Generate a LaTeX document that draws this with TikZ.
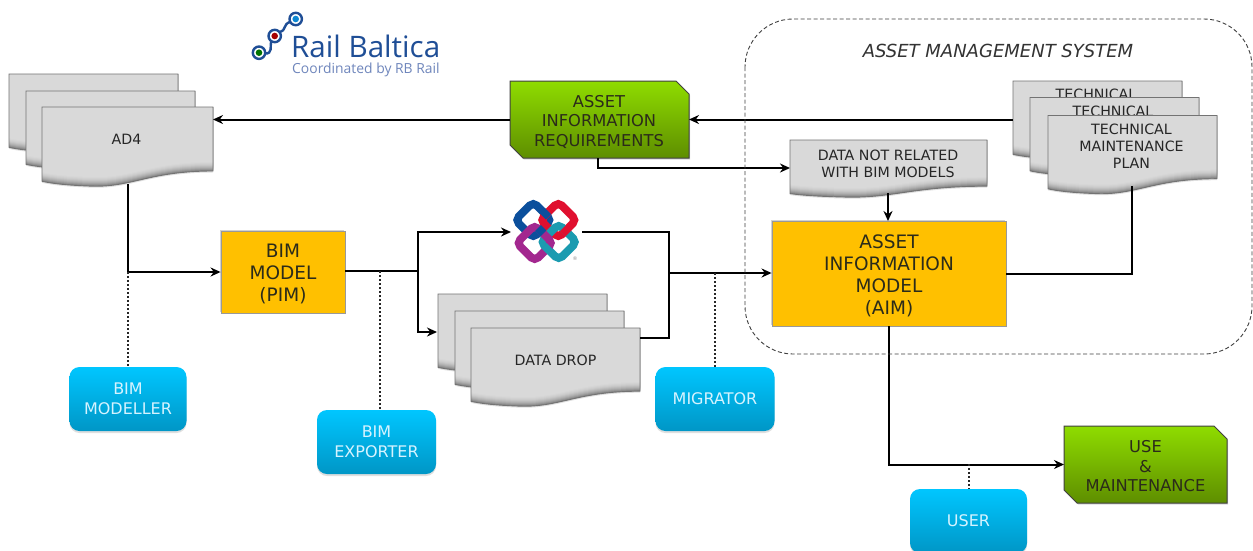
\documentclass[tikz,border=0pt]{standalone}
\usepackage{fontspec}
\setmainfont{DejaVu Sans}
\newfontfamily\logofont{Open Sans}
\usetikzlibrary{arrows.meta,shadows,calc}
\definecolor{txtdark}{HTML}{2B2B1A}
\definecolor{logoblue}{HTML}{1F4E96}
\definecolor{logolight}{HTML}{6F86BC}
\definecolor{greentop}{HTML}{8FDC00}
\definecolor{greenbot}{HTML}{5E8E00}
\definecolor{bluetop}{HTML}{00C6FF}
\definecolor{bluebot}{HTML}{0096C6}
\definecolor{orange1}{HTML}{FFC000}
\definecolor{bluetext}{HTML}{D6F3FF}
\definecolor{ifcblue}{HTML}{0B4F9C}
\definecolor{ifcred}{HTML}{E0102F}
\definecolor{ifcpurple}{HTML}{A3278F}
\definecolor{ifcteal}{HTML}{1B9BB0}
\tikzset{
  wire/.style={draw=black,line width=2pt},
  arrowwire/.style={wire,-{Stealth[length=10pt,width=9pt]}},
  dotwire/.style={draw=black!85,line width=2pt,dash pattern=on 2pt off 2pt},
  docbase/.style={fill=black!15,drop shadow={shadow xshift=0pt,shadow yshift=-1.5pt,opacity=.25}},
  docline/.style={draw=black!55,line width=.9pt},
  ghost/.style={inner sep=0pt,outer sep=0pt},
  doctext/.style={inner sep=0pt,align=center,font=\fontsize{14.2}{17}\selectfont,text=black!85},
  snipbox/.style={draw=black!75,line width=1pt,top color=greentop,bottom color=greenbot,
    drop shadow={shadow xshift=1pt,shadow yshift=-1.5pt,opacity=.3}},
  sniptext/.style={inner sep=0pt,align=center,font=\fontsize{16.3}{19.5}\selectfont,text=txtdark},
  orangebox/.style={draw=black!40,line width=.9pt,fill=orange1,inner sep=0pt,
    drop shadow={shadow xshift=-1pt,shadow yshift=1pt,opacity=.35}},
  orangetext/.style={inner sep=0pt,align=center,text=txtdark,font=\fontsize{18.5}{22}\selectfont},
  bluebox/.style={rounded corners=10pt,top color=bluetop,bottom color=bluebot,draw=none,inner sep=0pt,align=center,
    font=\fontsize{16}{19.5}\selectfont,text=bluetext,
    drop shadow={shadow xshift=0pt,shadow yshift=-2pt,opacity=.25}},
  ifcring/.style={line width=8pt,rounded corners=5pt},
}
% #1 x, #2 y, #3 w, #4 h, #5 upward offset of the lower edge
\newcommand\docpath[5]{(#1,#2) -- (#1+#3,#2) -- (#1+#3,#2+.81*#4-#5)
    .. controls (#1+.62*#3,#2+.81*#4-#5) and (#1+.52*#3,#2+1.03*#4-#5) .. (#1+.27*#3,#2+#4-#5)
    .. controls (#1+.15*#3,#2+.99*#4-#5) and (#1+.06*#3,#2+.97*#4-#5) .. (#1,#2+.94*#4-#5) -- cycle}
\newcommand\docshape[4]{%
  \path[docbase] \docpath{#1}{#2}{#3}{#4}{0};
  \foreach \i/\k in {0/48,1/42,2/36,3/31,4/27,5/23,6/20,7/18,8/16,9/15}{\fill[black!\k] \docpath{#1}{#2}{#3}{#4}{\i};}
  \draw[docline] \docpath{#1}{#2}{#3}{#4}{0};}
% #1 name, #2 x, #3 y, #4 w, #5 h
\newcommand\docnode[5]{%
  \docshape{#2}{#3}{#4}{#5}%
  \node[ghost,minimum width=#4*1pt,minimum height=#5*1pt,anchor=north west] (#1) at (#2,#3) {};}
\newcommand\snipnode[5]{%
  \path[snipbox] (#2,#3) -- (#2+#4-13,#3) -- (#2+#4,#3+13) -- (#2+#4,#3+#5) -- (#2+13,#3+#5) -- (#2,#3+#5-13) -- cycle;
  \node[ghost,minimum width=#4*1pt,minimum height=#5*1pt,anchor=north west] (#1) at (#2,#3) {};}
\newcommand\ifcsquare[3]{\draw[ifcring,#3] (#1,#2-18) -- (#1+18,#2) -- (#1,#2+18) -- (#1-18,#2) -- cycle;}
% a crossing redrawn on top: #1,#2 crossing, #3,#4,#5 the ring
\newcommand\ifcover[5]{\begin{scope}
  \clip (#1-6,#2) -- (#1,#2-6) -- (#1+6,#2) -- (#1,#2+6) -- cycle;
  \ifcsquare{#3}{#4}{#5}
\end{scope}}
\begin{document}
\begin{tikzpicture}[x=1pt,y=-1pt]
\useasboundingbox (0,0) rectangle (1253,550);
\clip (0,0) rectangle (1253,550);
\fill[white] (0,0) rectangle (1253,550);
% logo
\draw[logoblue,line width=2.4pt,line cap=round] (265,53.5) .. controls (273,54) and (270,46) .. (271,42);
\draw[logoblue,line width=2.4pt,line cap=round] (280,32) .. controls (286,31) and (283,24) .. (290,22);
\foreach \cx/\cy/\cc in {259/52.7/green!45!black,274.7/36/red!65!black,295.7/19/cyan!70!blue}{
  \draw[logoblue,line width=2.4pt,fill=white] (\cx,\cy) circle (6.2pt);
  \fill[\cc] (\cx,\cy) circle (3.3pt);}
\node[inner sep=0pt,anchor=base west,text height=22pt,text depth=0pt,font=\logofont\fontsize{29.6}{30}\selectfont,text=logoblue] (logotitle) at (291,57) {Rail Baltica};
\node[inner sep=0pt,anchor=base west,text height=10pt,text depth=3pt,font=\logofont\fontsize{13.9}{16}\selectfont,text=logolight] (logosub) at (292,73) {Coordinated by RB Rail};
% documents
\docnode{adc}{9}{74}{169}{78}
\docnode{adb}{26}{91}{169}{78}
\docnode{ad}{42}{107}{171}{79}
\node[doctext] (adt) at (126.5,139) {AD4};
\docnode{techc}{1013}{81}{169}{78}
\node[doctext] (techct) at (1096,94) {TECHNICAL};
\docnode{techb}{1030}{97.5}{169}{78}
\node[doctext] (techbt) at (1113,111) {TECHNICAL};
\docnode{tech}{1048}{115.5}{169}{78}
\node[doctext] (techt) at (1131.5,146) {TECHNICAL\\MAINTENANCE\\PLAN};
\docnode{dropc}{438}{294}{169}{78}
\docnode{dropb}{455}{311}{169}{78}
\docnode{drop}{471}{328}{169}{78}
\node[doctext] (dropt) at (555.5,360) {DATA DROP};
\docnode{dnr}{790}{140}{197}{57}
\node[doctext] (dnrt) at (888,163.5) {DATA NOT RELATED\\WITH BIM MODELS};
\snipnode{air}{510}{81}{179}{77}
\node[sniptext] (airt) at (599,121.5) {ASSET\\INFORMATION\\REQUIREMENTS};
\snipnode{use}{1064}{426}{163}{77}
\node[sniptext] (uset) at (1145.5,466.5) {USE\\\&\\MAINTENANCE};
\node[orangebox,minimum width=124pt,minimum height=82pt] (bim) at (283,272) {};
\node[orangetext] (bimt) at (283,274) {BIM\\MODEL\\(PIM)};
\node[orangebox,minimum width=234pt,minimum height=105pt] (aim) at (889,273.5) {};
\node[orangetext] (aimt) at (889,275.5) {ASSET\\INFORMATION\\MODEL\\(AIM)};
\node[bluebox,minimum width=117pt,minimum height=64pt] (modeller) at (128,399) {BIM\\MODELLER};
\node[bluebox,minimum width=119pt,minimum height=64pt] (exporter) at (376.5,442) {BIM\\EXPORTER};
\node[bluebox,minimum width=119pt,minimum height=64pt] (migrator) at (715,399) {MIGRATOR};
\node[bluebox,minimum width=117pt,minimum height=64pt] (user) at (968.5,521) {USER};
% ifc logo
\node[ghost,minimum width=71pt,minimum height=60pt] (ifc) at (546.5,232) {};
\ifcsquare{533.3}{220}{ifcblue}
\ifcsquare{558.3}{220}{ifcred}
\ifcsquare{558.7}{242}{ifcteal}
\ifcsquare{534.7}{243}{ifcpurple}
\ifcover{545.8}{213.5}{533.3}{220}{ifcblue}
\ifcover{541}{231}{533.3}{220}{ifcblue}
\ifcover{566}{231}{558.3}{220}{ifcred}
\ifcover{546.7}{249}{558.7}{242}{ifcteal}
\node[inner sep=0pt,font=\fontsize{5}{5}\selectfont,text=black!45] (ifcr) at (575,258.5) {®};
% connectors
\coordinate (j1) at (418,271);
\coordinate (j2) at (669,273);
\coordinate (dotx1) at (380,271);
\coordinate (dotx2) at (969,464);
\coordinate (dropin) at (437,332);
\coordinate (dropout) at (640,338);
\coordinate (adout) at (128,184);
\coordinate (airdown) at (598,158);
\coordinate (airright) at (790,168);
\coordinate (dnrdown) at (888,193);
\coordinate (aimup) at (888,221);
\coordinate (techdown) at (1132,186);
\draw[arrowwire] (adout) |- (bim.west);
\draw[dotwire] (modeller.north |- bim.west) -- (modeller.north);
\draw[wire] (bim.east |- j1) -- (j1);
\draw[arrowwire] (j1) |- (ifc.west);
\draw[arrowwire] (j1) |- (dropin);
\draw[dotwire] (dotx1) -- (dotx1 |- exporter.north);
\draw[wire] (ifc.east) -| (j2 |- dropout) -- (dropout);
\draw[wire] (j2 |- ifc.east) -- (j2);
\draw[arrowwire] (j2) -- (aim.west |- j2);
\draw[dotwire] (migrator.north |- j2) -- (migrator.north);
\draw[arrowwire] (air.west) -- (ad.east |- air.west);
\draw[arrowwire] (techc.west |- air.east) -- (air.east);
\draw[arrowwire] (airdown) |- (airright);
\draw[arrowwire] (dnrdown) -- (aimup);
\draw[wire] (aim.east) -| (techdown);
\draw[arrowwire] (aim.south) |- (use.west);
\draw[dotwire] (dotx2) -- (dotx2 |- user.north);
% asset management system
\draw[draw=black!75,line width=.9pt,dash pattern=on 4pt off 2.5pt,rounded corners=48pt] (745,19) rectangle (1252,354);
\node[inner sep=0pt,font=\fontsize{18}{20}\selectfont\itshape,text=black!80] (ams) at (998,51) {ASSET MANAGEMENT SYSTEM};
\end{tikzpicture}
\end{document}
